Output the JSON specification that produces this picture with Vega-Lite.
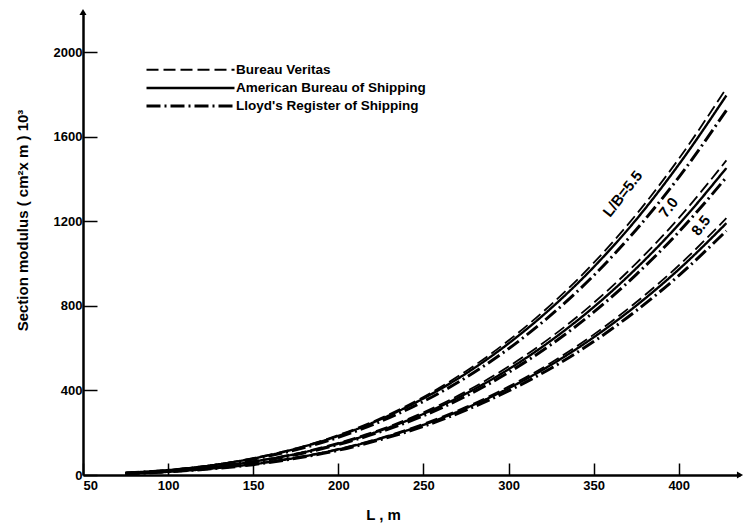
{
  "$schema": "https://vega.github.io/schema/vega-lite/v6.json",
  "width": 657,
  "height": 463,
  "autosize": {"type": "none"},
  "padding": {"left": 83, "top": 12, "right": 10, "bottom": 51},
  "background": "white",
  "config": {
    "view": {"stroke": null},
    "font": "Liberation Sans",
    "axis": {"grid": false, "domainColor": "black", "domainWidth": 2.5, "tickColor": "black", "tickWidth": 1.5, "labelColor": "black", "labelFont": "Liberation Sans", "labelFontWeight": "bold", "labelFontSize": 13, "titleColor": "black", "titleFont": "Liberation Sans", "titleFontWeight": "bold"}
  },
  "datasets": {
    "curves": [
      {"L": 75, "Z": 10, "series": "Bureau Veritas", "ratio": "5.5"},
      {"L": 100, "Z": 23, "series": "Bureau Veritas", "ratio": "5.5"},
      {"L": 125, "Z": 46, "series": "Bureau Veritas", "ratio": "5.5"},
      {"L": 150, "Z": 80, "series": "Bureau Veritas", "ratio": "5.5"},
      {"L": 175, "Z": 126, "series": "Bureau Veritas", "ratio": "5.5"},
      {"L": 200, "Z": 189, "series": "Bureau Veritas", "ratio": "5.5"},
      {"L": 225, "Z": 269, "series": "Bureau Veritas", "ratio": "5.5"},
      {"L": 250, "Z": 369, "series": "Bureau Veritas", "ratio": "5.5"},
      {"L": 275, "Z": 491, "series": "Bureau Veritas", "ratio": "5.5"},
      {"L": 300, "Z": 636, "series": "Bureau Veritas", "ratio": "5.5"},
      {"L": 325, "Z": 806, "series": "Bureau Veritas", "ratio": "5.5"},
      {"L": 350, "Z": 1003, "series": "Bureau Veritas", "ratio": "5.5"},
      {"L": 375, "Z": 1232, "series": "Bureau Veritas", "ratio": "5.5"},
      {"L": 400, "Z": 1495, "series": "Bureau Veritas", "ratio": "5.5"},
      {"L": 428, "Z": 1830, "series": "Bureau Veritas", "ratio": "5.5"},
      {"L": 75, "Z": 10, "series": "American Bureau of Shipping", "ratio": "5.5"},
      {"L": 100, "Z": 23, "series": "American Bureau of Shipping", "ratio": "5.5"},
      {"L": 125, "Z": 45, "series": "American Bureau of Shipping", "ratio": "5.5"},
      {"L": 150, "Z": 78, "series": "American Bureau of Shipping", "ratio": "5.5"},
      {"L": 175, "Z": 124, "series": "American Bureau of Shipping", "ratio": "5.5"},
      {"L": 200, "Z": 185, "series": "American Bureau of Shipping", "ratio": "5.5"},
      {"L": 225, "Z": 264, "series": "American Bureau of Shipping", "ratio": "5.5"},
      {"L": 250, "Z": 362, "series": "American Bureau of Shipping", "ratio": "5.5"},
      {"L": 275, "Z": 480, "series": "American Bureau of Shipping", "ratio": "5.5"},
      {"L": 300, "Z": 622, "series": "American Bureau of Shipping", "ratio": "5.5"},
      {"L": 325, "Z": 789, "series": "American Bureau of Shipping", "ratio": "5.5"},
      {"L": 350, "Z": 983, "series": "American Bureau of Shipping", "ratio": "5.5"},
      {"L": 375, "Z": 1208, "series": "American Bureau of Shipping", "ratio": "5.5"},
      {"L": 400, "Z": 1468, "series": "American Bureau of Shipping", "ratio": "5.5"},
      {"L": 428, "Z": 1795, "series": "American Bureau of Shipping", "ratio": "5.5"},
      {"L": 75, "Z": 10, "series": "Lloyd's Register of Shipping", "ratio": "5.5"},
      {"L": 100, "Z": 22, "series": "Lloyd's Register of Shipping", "ratio": "5.5"},
      {"L": 125, "Z": 43, "series": "Lloyd's Register of Shipping", "ratio": "5.5"},
      {"L": 150, "Z": 75, "series": "Lloyd's Register of Shipping", "ratio": "5.5"},
      {"L": 175, "Z": 119, "series": "Lloyd's Register of Shipping", "ratio": "5.5"},
      {"L": 200, "Z": 178, "series": "Lloyd's Register of Shipping", "ratio": "5.5"},
      {"L": 225, "Z": 254, "series": "Lloyd's Register of Shipping", "ratio": "5.5"},
      {"L": 250, "Z": 348, "series": "Lloyd's Register of Shipping", "ratio": "5.5"},
      {"L": 275, "Z": 461, "series": "Lloyd's Register of Shipping", "ratio": "5.5"},
      {"L": 300, "Z": 597, "series": "Lloyd's Register of Shipping", "ratio": "5.5"},
      {"L": 325, "Z": 757, "series": "Lloyd's Register of Shipping", "ratio": "5.5"},
      {"L": 350, "Z": 943, "series": "Lloyd's Register of Shipping", "ratio": "5.5"},
      {"L": 375, "Z": 1160, "series": "Lloyd's Register of Shipping", "ratio": "5.5"},
      {"L": 400, "Z": 1408, "series": "Lloyd's Register of Shipping", "ratio": "5.5"},
      {"L": 428, "Z": 1725, "series": "Lloyd's Register of Shipping", "ratio": "5.5"},
      {"L": 75, "Z": 8, "series": "Bureau Veritas", "ratio": "7.0"},
      {"L": 100, "Z": 19, "series": "Bureau Veritas", "ratio": "7.0"},
      {"L": 125, "Z": 37, "series": "Bureau Veritas", "ratio": "7.0"},
      {"L": 150, "Z": 65, "series": "Bureau Veritas", "ratio": "7.0"},
      {"L": 175, "Z": 101, "series": "Bureau Veritas", "ratio": "7.0"},
      {"L": 200, "Z": 152, "series": "Bureau Veritas", "ratio": "7.0"},
      {"L": 225, "Z": 216, "series": "Bureau Veritas", "ratio": "7.0"},
      {"L": 250, "Z": 296, "series": "Bureau Veritas", "ratio": "7.0"},
      {"L": 275, "Z": 395, "series": "Bureau Veritas", "ratio": "7.0"},
      {"L": 300, "Z": 513, "series": "Bureau Veritas", "ratio": "7.0"},
      {"L": 325, "Z": 652, "series": "Bureau Veritas", "ratio": "7.0"},
      {"L": 350, "Z": 814, "series": "Bureau Veritas", "ratio": "7.0"},
      {"L": 375, "Z": 1001, "series": "Bureau Veritas", "ratio": "7.0"},
      {"L": 400, "Z": 1215, "series": "Bureau Veritas", "ratio": "7.0"},
      {"L": 428, "Z": 1488, "series": "Bureau Veritas", "ratio": "7.0"},
      {"L": 75, "Z": 8, "series": "American Bureau of Shipping", "ratio": "7.0"},
      {"L": 100, "Z": 19, "series": "American Bureau of Shipping", "ratio": "7.0"},
      {"L": 125, "Z": 36, "series": "American Bureau of Shipping", "ratio": "7.0"},
      {"L": 150, "Z": 63, "series": "American Bureau of Shipping", "ratio": "7.0"},
      {"L": 175, "Z": 99, "series": "American Bureau of Shipping", "ratio": "7.0"},
      {"L": 200, "Z": 148, "series": "American Bureau of Shipping", "ratio": "7.0"},
      {"L": 225, "Z": 211, "series": "American Bureau of Shipping", "ratio": "7.0"},
      {"L": 250, "Z": 289, "series": "American Bureau of Shipping", "ratio": "7.0"},
      {"L": 275, "Z": 385, "series": "American Bureau of Shipping", "ratio": "7.0"},
      {"L": 300, "Z": 500, "series": "American Bureau of Shipping", "ratio": "7.0"},
      {"L": 325, "Z": 636, "series": "American Bureau of Shipping", "ratio": "7.0"},
      {"L": 350, "Z": 794, "series": "American Bureau of Shipping", "ratio": "7.0"},
      {"L": 375, "Z": 977, "series": "American Bureau of Shipping", "ratio": "7.0"},
      {"L": 400, "Z": 1185, "series": "American Bureau of Shipping", "ratio": "7.0"},
      {"L": 428, "Z": 1452, "series": "American Bureau of Shipping", "ratio": "7.0"},
      {"L": 75, "Z": 8, "series": "Lloyd's Register of Shipping", "ratio": "7.0"},
      {"L": 100, "Z": 18, "series": "Lloyd's Register of Shipping", "ratio": "7.0"},
      {"L": 125, "Z": 35, "series": "Lloyd's Register of Shipping", "ratio": "7.0"},
      {"L": 150, "Z": 61, "series": "Lloyd's Register of Shipping", "ratio": "7.0"},
      {"L": 175, "Z": 96, "series": "Lloyd's Register of Shipping", "ratio": "7.0"},
      {"L": 200, "Z": 144, "series": "Lloyd's Register of Shipping", "ratio": "7.0"},
      {"L": 225, "Z": 205, "series": "Lloyd's Register of Shipping", "ratio": "7.0"},
      {"L": 250, "Z": 280, "series": "Lloyd's Register of Shipping", "ratio": "7.0"},
      {"L": 275, "Z": 373, "series": "Lloyd's Register of Shipping", "ratio": "7.0"},
      {"L": 300, "Z": 485, "series": "Lloyd's Register of Shipping", "ratio": "7.0"},
      {"L": 325, "Z": 617, "series": "Lloyd's Register of Shipping", "ratio": "7.0"},
      {"L": 350, "Z": 770, "series": "Lloyd's Register of Shipping", "ratio": "7.0"},
      {"L": 375, "Z": 948, "series": "Lloyd's Register of Shipping", "ratio": "7.0"},
      {"L": 400, "Z": 1149, "series": "Lloyd's Register of Shipping", "ratio": "7.0"},
      {"L": 428, "Z": 1408, "series": "Lloyd's Register of Shipping", "ratio": "7.0"},
      {"L": 75, "Z": 6, "series": "Bureau Veritas", "ratio": "8.5"},
      {"L": 100, "Z": 15, "series": "Bureau Veritas", "ratio": "8.5"},
      {"L": 125, "Z": 31, "series": "Bureau Veritas", "ratio": "8.5"},
      {"L": 150, "Z": 52, "series": "Bureau Veritas", "ratio": "8.5"},
      {"L": 175, "Z": 83, "series": "Bureau Veritas", "ratio": "8.5"},
      {"L": 200, "Z": 123, "series": "Bureau Veritas", "ratio": "8.5"},
      {"L": 225, "Z": 176, "series": "Bureau Veritas", "ratio": "8.5"},
      {"L": 250, "Z": 242, "series": "Bureau Veritas", "ratio": "8.5"},
      {"L": 275, "Z": 322, "series": "Bureau Veritas", "ratio": "8.5"},
      {"L": 300, "Z": 418, "series": "Bureau Veritas", "ratio": "8.5"},
      {"L": 325, "Z": 531, "series": "Bureau Veritas", "ratio": "8.5"},
      {"L": 350, "Z": 664, "series": "Bureau Veritas", "ratio": "8.5"},
      {"L": 375, "Z": 817, "series": "Bureau Veritas", "ratio": "8.5"},
      {"L": 400, "Z": 991, "series": "Bureau Veritas", "ratio": "8.5"},
      {"L": 428, "Z": 1215, "series": "Bureau Veritas", "ratio": "8.5"},
      {"L": 75, "Z": 6, "series": "American Bureau of Shipping", "ratio": "8.5"},
      {"L": 100, "Z": 15, "series": "American Bureau of Shipping", "ratio": "8.5"},
      {"L": 125, "Z": 30, "series": "American Bureau of Shipping", "ratio": "8.5"},
      {"L": 150, "Z": 51, "series": "American Bureau of Shipping", "ratio": "8.5"},
      {"L": 175, "Z": 81, "series": "American Bureau of Shipping", "ratio": "8.5"},
      {"L": 200, "Z": 121, "series": "American Bureau of Shipping", "ratio": "8.5"},
      {"L": 225, "Z": 173, "series": "American Bureau of Shipping", "ratio": "8.5"},
      {"L": 250, "Z": 237, "series": "American Bureau of Shipping", "ratio": "8.5"},
      {"L": 275, "Z": 316, "series": "American Bureau of Shipping", "ratio": "8.5"},
      {"L": 300, "Z": 410, "series": "American Bureau of Shipping", "ratio": "8.5"},
      {"L": 325, "Z": 521, "series": "American Bureau of Shipping", "ratio": "8.5"},
      {"L": 350, "Z": 651, "series": "American Bureau of Shipping", "ratio": "8.5"},
      {"L": 375, "Z": 801, "series": "American Bureau of Shipping", "ratio": "8.5"},
      {"L": 400, "Z": 972, "series": "American Bureau of Shipping", "ratio": "8.5"},
      {"L": 428, "Z": 1191, "series": "American Bureau of Shipping", "ratio": "8.5"},
      {"L": 75, "Z": 6, "series": "Lloyd's Register of Shipping", "ratio": "8.5"},
      {"L": 100, "Z": 15, "series": "Lloyd's Register of Shipping", "ratio": "8.5"},
      {"L": 125, "Z": 29, "series": "Lloyd's Register of Shipping", "ratio": "8.5"},
      {"L": 150, "Z": 49, "series": "Lloyd's Register of Shipping", "ratio": "8.5"},
      {"L": 175, "Z": 79, "series": "Lloyd's Register of Shipping", "ratio": "8.5"},
      {"L": 200, "Z": 117, "series": "Lloyd's Register of Shipping", "ratio": "8.5"},
      {"L": 225, "Z": 168, "series": "Lloyd's Register of Shipping", "ratio": "8.5"},
      {"L": 250, "Z": 230, "series": "Lloyd's Register of Shipping", "ratio": "8.5"},
      {"L": 275, "Z": 307, "series": "Lloyd's Register of Shipping", "ratio": "8.5"},
      {"L": 300, "Z": 398, "series": "Lloyd's Register of Shipping", "ratio": "8.5"},
      {"L": 325, "Z": 505, "series": "Lloyd's Register of Shipping", "ratio": "8.5"},
      {"L": 350, "Z": 631, "series": "Lloyd's Register of Shipping", "ratio": "8.5"},
      {"L": 375, "Z": 777, "series": "Lloyd's Register of Shipping", "ratio": "8.5"},
      {"L": 400, "Z": 943, "series": "Lloyd's Register of Shipping", "ratio": "8.5"},
      {"L": 428, "Z": 1155, "series": "Lloyd's Register of Shipping", "ratio": "8.5"}
    ],
    "labels": [
      {"L": 367, "Z": 1330, "text": "L/B=5.5"},
      {"L": 394, "Z": 1265, "text": "7.0"},
      {"L": 413, "Z": 1180, "text": "8.5"}
    ]
  },
  "layer": [
    {
      "data": {"name": "curves"},
      "mark": {"type": "line", "color": "black", "interpolate": "monotone"},
      "encoding": {
        "x": {"field": "L", "type": "quantitative", "scale": {"domain": [50, 436], "nice": false, "zero": false},
          "axis": {"values": [50, 100, 150, 200, 250, 300, 350, 400], "format": "d", "tickSize": -12, "labelPadding": 16, "title": "L ,   m", "titleFontSize": 15, "titleX": 300, "titleY": 39, "titleBaseline": "middle", "titleAlign": "center"}},
        "y": {"field": "Z", "type": "quantitative", "scale": {"domain": [0, 2190], "nice": false},
          "axis": {"values": [0, 400, 800, 1200, 1600, 2000], "format": "d", "tickSize": -14, "labelPadding": 15, "title": "Section modulus ( cm²x m ) 10³", "titleFontSize": 15, "titleX": -61, "titleY": 208, "titleAngle": 270, "titleBaseline": "middle", "titleAlign": "center"}},
        "detail": {"field": "ratio"},
        "strokeDash": {"field": "series", "type": "nominal",
          "scale": {"domain": ["Bureau Veritas", "American Bureau of Shipping", "Lloyd's Register of Shipping"], "range": [[12, 5], [1, 0], [14, 4, 2, 4]]},
          "legend": {"title": null, "orient": "none", "legendX": 100.5, "legendY": 51, "symbolType": "M-8,0H8", "symbolSize": 121, "symbolStrokeColor": "black", "symbolStrokeWidth": 2, "rowPadding": 4, "labelFontSize": 13.5, "labelFont": "Liberation Sans", "labelFontWeight": "bold", "labelColor": "black", "labelOffset": 38.5, "labelLimit": 400, "padding": 0,
            "encode": {"symbols": {"update": {"strokeWidth": {"signal": "datum.value === 'American Bureau of Shipping' ? 3.2 : 1.8"}}}}}},
        "strokeWidth": {"field": "series", "type": "nominal",
          "scale": {"domain": ["Bureau Veritas", "American Bureau of Shipping", "Lloyd's Register of Shipping"], "range": [1.8, 3, 1.8]}, "legend": null}
      }
    },
    {
      "data": {"name": "labels"},
      "mark": {"type": "text", "angle": 308, "font": "Liberation Sans", "fontWeight": "bold", "fontSize": 15, "color": "black"},
      "encoding": {
        "x": {"field": "L", "type": "quantitative"},
        "y": {"field": "Z", "type": "quantitative"},
        "text": {"field": "text"}
      }
    },
    {
      "data": {"values": [{"L": 50, "Z": 2190}]},
      "mark": {"type": "point", "shape": "triangle-up", "filled": true, "color": "black", "size": 50, "opacity": 1},
      "encoding": {
        "x": {"field": "L", "type": "quantitative"},
        "y": {"field": "Z", "type": "quantitative"}
      }
    },
    {
      "data": {"values": [{"L": 436, "Z": 0}]},
      "mark": {"type": "point", "shape": "triangle-right", "filled": true, "color": "black", "size": 50, "opacity": 1},
      "encoding": {
        "x": {"field": "L", "type": "quantitative"},
        "y": {"field": "Z", "type": "quantitative"}
      }
    }
  ]
}
